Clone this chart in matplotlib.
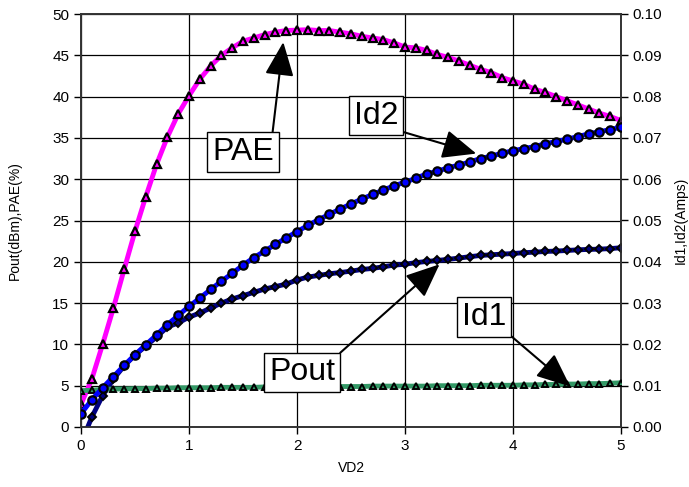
import matplotlib
matplotlib.use("Agg")
import matplotlib.pyplot as plt
import numpy as np

plt.rcParams['font.family'] = ['Liberation Sans', 'DejaVu Sans']

# VD2 sweep, 0 to 5 V in 0.1 V steps
vd2 = [round(0.1 * i, 1) for i in range(51)]

# PAE (%) left axis
pae = [2.75, 5.8, 10.0, 14.4, 19.1, 23.7, 27.9, 31.8, 35.1, 37.9,
       40.1, 42.1, 43.7, 45.0, 45.9, 46.7, 47.1, 47.5, 47.8, 48.0,
       48.05, 48.1, 48.0, 48.0, 47.8, 47.6, 47.3, 47.1, 46.9, 46.5,
       46.0, 45.9, 45.6, 45.1, 44.75, 44.3, 43.8, 43.3, 42.9, 42.3,
       41.9, 41.5, 40.9, 40.5, 40.0, 39.5, 39.0, 38.5, 38.0, 37.6,
       37.1]

# Pout (dBm) left axis
pout = [-2.0, 1.2, 3.8, 5.8, 7.4, 8.7, 9.8, 10.9, 12.1, 12.6,
        13.3, 13.8, 14.4, 15.0, 15.5, 15.9, 16.3, 16.7, 17.0, 17.3,
        17.8, 18.15, 18.35, 18.55, 18.7, 18.87, 19.07, 19.2, 19.4, 19.6,
        19.7, 19.9, 20.04, 20.16, 20.3, 20.45, 20.62, 20.77, 20.85, 20.93,
        21.0, 21.1, 21.17, 21.25, 21.3, 21.37, 21.45, 21.5, 21.53, 21.6,
        21.7]

# Id2 (A) right axis
id2 = [0.0032, 0.0066, 0.0095, 0.0122, 0.0149, 0.0175, 0.0199, 0.0223, 0.0248, 0.0270,
       0.0292, 0.0312, 0.0333, 0.0353, 0.0372, 0.0392, 0.0410, 0.0426, 0.0442, 0.0458,
       0.0473, 0.0488, 0.0502, 0.0515, 0.0528, 0.0540, 0.0552, 0.0563, 0.0574, 0.0584,
       0.0593, 0.0602, 0.0613, 0.0619, 0.0628, 0.0634, 0.0642, 0.0650, 0.0656, 0.0663,
       0.0669, 0.0674, 0.0679, 0.0686, 0.0691, 0.0697, 0.0703, 0.0710, 0.0715, 0.0720,
       0.0726]

# Id1 (A) right axis
id1 = [0.0088, 0.0089, 0.0091, 0.0092, 0.0092, 0.0093, 0.0093, 0.0094, 0.0094, 0.0095,
       0.0095, 0.0095, 0.0095, 0.0096, 0.0096, 0.0096, 0.0096, 0.0097, 0.0097, 0.0097,
       0.0097, 0.0097, 0.0098, 0.0098, 0.0098, 0.0098, 0.0098, 0.0099, 0.0099, 0.0099,
       0.0099, 0.0099, 0.0099, 0.0100, 0.0100, 0.0100, 0.0100, 0.0101, 0.0101, 0.0101,
       0.0101, 0.0102, 0.0102, 0.0103, 0.0103, 0.0104, 0.0104, 0.0105, 0.0105, 0.0106,
       0.0107]

fig = plt.figure(figsize=(6.89, 4.87), dpi=100)
ax = fig.add_axes([81/689, 60/487, 540/689, 413/487])
ax2 = ax.twinx()

ax.set_xlim(0, 5)
ax.set_ylim(0, 50)
ax2.set_ylim(0, 0.1)
ax.set_xticks(range(6))
ax.set_yticks(range(0, 51, 5))
ax2.set_yticks(np.arange(0, 0.101, 0.01))
ax2.set_yticklabels(["%.2f" % v for v in np.arange(0, 0.101, 0.01)])

ax.grid(True, color='black', lw=0.9)
ax.set_axisbelow(True)
for a in (ax, ax2):
    a.tick_params(labelsize=11, direction='out', length=5, width=1, colors='black')
    for s in a.spines.values():
        s.set_color('#333333')
        s.set_linewidth(1.2)

ax.plot(vd2, pae, color='#FF00FF', lw=3.5, marker='^', ms=5.5,
        mfc='#FF00FF', mec='black', mew=1.6, zorder=3)
ax.plot(vd2, pout, color='#000080', lw=3.5, marker='D', ms=4,
        mfc='#000080', mec='black', mew=1.4, zorder=3)
ax2.plot(vd2, id1, color='#339966', lw=3.5, marker='^', ms=5,
         mfc='#339966', mec='black', mew=1.4, zorder=3)
ax2.plot(vd2, id2, color='#0000FF', lw=3.5, marker='o', ms=6,
         mfc='#0000FF', mec='black', mew=1.6, zorder=3)

ax.set_xlabel("VD2", fontsize=10, labelpad=6)
ax.set_ylabel("Pout(dBm),PAE(%)", fontsize=10, labelpad=22)
ax2.set_ylabel("Id1,Id2(Amps)", fontsize=10, labelpad=8)

box = dict(boxstyle='square,pad=0.15', fc='white', ec='black', lw=1)

def label(text, xy, xytext, rel):
    ax2.annotate(text, xy=xy, xytext=xytext, xycoords=ax.transData,
                 textcoords=ax.transData, fontsize=23, ha='center', va='center',
                 bbox=box, zorder=10,
                 arrowprops=dict(arrowstyle='-|>,head_length=1.4,head_width=0.6',
                                 mutation_scale=15, color='black', lw=1.5,
                                 shrinkA=0, shrinkB=0, relpos=rel))

label("PAE", (1.873, 46.6), (1.50, 33.3), (0.97, 1.0))
label("Id2", (3.66, 33.1), (2.734, 37.7), (1.0, 0.0))
label("Id1", (4.53, 4.9), (3.73, 13.35), (1.0, 0.0))
label("Pout", (3.32, 19.7), (2.046, 6.6), (1.0, 1.0))

fig.savefig("out.png", dpi=100)
